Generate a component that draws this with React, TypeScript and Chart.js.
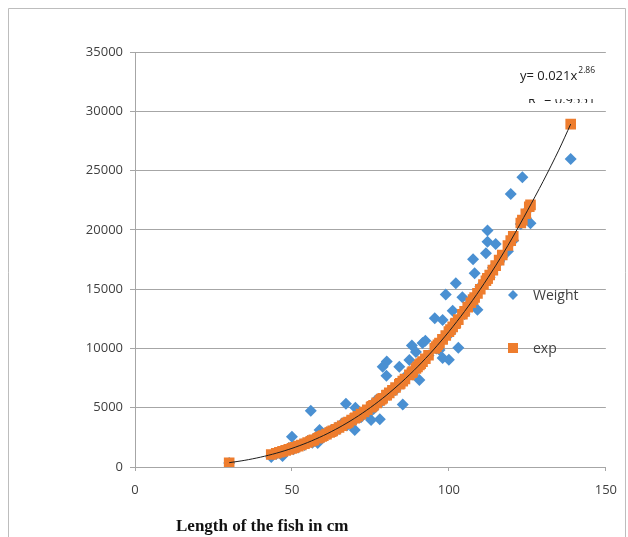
import React, { useEffect, useRef } from "react";
import { Chart, registerables } from "chart.js";

Chart.register(...registerables);

// Fish length (cm) – shared by both series
const fishLength = [
  30, 43.4, 45, 46, 47, 48, 49, 50, 50.5, 51, 52, 53, 54, 55, 56, 56.5, 57, 58.2, 58.8, 59.5,
  60, 61, 62, 62.5, 63, 64, 65, 66, 67.2, 67.5, 68, 69, 70.2, 70, 71, 72, 73, 74, 75.2, 75.5,
  76, 77, 78, 78.5, 78.9, 80.2, 80.1, 81, 82, 83, 84.2, 84.5, 85.3, 86, 87.4, 88.2, 88.5, 89.5, 90, 90.6,
  91, 91.6, 92.5, 93.5, 95.5, 96, 96.5, 97, 98, 98, 99, 100, 100.5, 101.2, 102.2, 102, 103, 104.3, 105, 106,
  107, 108.2, 107.7, 109.1, 110, 111, 111.8, 112.3, 112.3, 113, 114, 114.9, 116, 117, 118.8, 119.7, 120.5, 122.9, 123.4, 124.5,
  125.6, 126, 138.8,
];

// Measured weight
const weight = [
  330, 840, 1100, 1250, 930, 1300, 1600, 2550, 1500, 1700, 1650, 1900, 1850, 2200, 4750, 2050, 2400, 2020, 3120, 2550,
  2500, 2900, 2800, 3100, 3000, 3300, 3200, 3700, 5340, 3500, 3900, 3700, 5000, 3120, 4300, 4200, 4600, 4400, 3960, 5200,
  4900, 5700, 4020, 5500, 8460, 8900, 7700, 6100, 6600, 6500, 8460, 7100, 5270, 7600, 9020, 10250, 7800, 9700, 8300, 7340,
  8600, 10450, 10650, 9400, 12540, 10000, 10300, 9870, 9200, 12400, 14550, 9050, 11300, 13170, 15490, 12000, 10050, 14310, 12900, 13500,
  14000, 16330, 17530, 13270, 15200, 15500, 18020, 19950, 19000, 16000, 16800, 18800, 17300, 17700, 18200, 23020, 19100, 20500, 24430, 21000,
  21800, 20550, 25970,
];

// Expected weight (exp)
const expWeight = [
  364, 1050, 1163, 1238, 1317, 1399, 1484, 1572, 1618, 1665, 1759, 1857, 1959, 2066, 2175, 2231, 2287, 2426, 2500, 2586,
  2649, 2777, 2908, 2976, 3045, 3185, 3330, 3479, 3663, 3710, 3788, 3950, 4149, 4115, 4286, 4461, 4641, 4825, 5052, 5110,
  5207, 5406, 5608, 5712, 5795, 6072, 6051, 6248, 6471, 6702, 6982, 7054, 7246, 7416, 7767, 7946, 8050, 8313, 8446, 8610,
  8719, 8884, 9135, 9420, 10007, 10156, 10308, 10462, 10774, 10774, 11093, 11417, 11583, 11816, 12150, 12083, 12427, 12877, 13126, 13484,
  13853, 14299, 14112, 14642, 14991, 15386, 15704, 15907, 15907, 16193, 16603, 16981, 17451, 17882, 18685, 19093, 19460, 20580, 20820, 21360,
  21950, 22108, 28920,
];

// Power trend line of Weight
const trendLength = [30, 35, 40, 45, 50, 55, 60, 65, 70, 75, 80, 85, 90, 95, 100, 105, 110, 115, 120, 125, 130, 135, 138.8];
const trendWeight = [364, 566, 830, 1163, 1572, 2066, 2649, 3330, 4115, 5014, 6029, 7174, 8446, 9859, 11417, 13126, 14991, 17023, 19228, 21609, 24080, 26720, 28920];

const xTickValues = [0, 50, 100, 150];
const yTickValues = [0, 5000, 10000, 15000, 20000, 25000, 30000, 35000];
const seriesNames = ["Weight", "exp"];
const xTitle = "Length of the fish in cm";
const equationMain = "y= 0.021x";
const equationPower = "2.86";
const rSquaredText = "R² = 0.9551";

const BLUE = "#4A90D2";
const ORANGE = "#EE7D2E";
const GRID = "#a6a6a6";
const TEXT = "#404040";
const SANS = "'Open Sans', 'Noto Sans', sans-serif";

const decorPlugin = {
  id: "decor",
  beforeDraw(chart: any) {
    const ctx = chart.ctx;
    ctx.save();
    ctx.fillStyle = "#ffffff";
    ctx.fillRect(0, 0, chart.width, chart.height);
    ctx.strokeStyle = "#bdbdbd";
    ctx.lineWidth = 1;
    ctx.beginPath();
    ctx.moveTo(8.5, chart.height);
    ctx.lineTo(8.5, 8.5);
    ctx.lineTo(625.5, 8.5);
    ctx.lineTo(625.5, chart.height);
    ctx.stroke();
    ctx.restore();
  },
  afterDraw(chart: any) {
    const ctx = chart.ctx;
    ctx.save();
    // Equation
    ctx.fillStyle = "#202020";
    ctx.textBaseline = "alphabetic";
    ctx.textAlign = "left";
    ctx.font = `13px ${SANS}`;
    ctx.fillText(equationMain, 520, 80);
    const w = ctx.measureText(equationMain).width;
    ctx.font = `8.5px ${SANS}`;
    ctx.fillText(equationPower, 520 + w + 1, 73);
    // partially hidden R² line
    ctx.save();
    ctx.beginPath();
    ctx.rect(520, 99, 90, 4);
    ctx.clip();
    ctx.font = `13px ${SANS}`;
    ctx.fillText(rSquaredText, 528, 104);
    ctx.restore();

    // Legend
    ctx.fillStyle = BLUE;
    ctx.beginPath();
    ctx.moveTo(513, 290);
    ctx.lineTo(518, 295);
    ctx.lineTo(513, 300);
    ctx.lineTo(508, 295);
    ctx.closePath();
    ctx.fill();
    ctx.fillStyle = ORANGE;
    ctx.fillRect(508, 343, 10, 10);
    ctx.fillStyle = TEXT;
    ctx.font = `14px ${SANS}`;
    ctx.textBaseline = "middle";
    ctx.fillText(seriesNames[0], 533, 296);
    ctx.fillText(seriesNames[1], 533, 349);

    // X title
    ctx.fillStyle = "#111111";
    ctx.font = `bold 17px 'Liberation Serif', 'DejaVu Serif', serif`;
    ctx.textBaseline = "alphabetic";
    ctx.fillText(xTitle, 176, 531);
    ctx.restore();
  },
};

export default function App() {
  const canvasRef = useRef<HTMLCanvasElement | null>(null);

  useEffect(() => {
    const canvas = canvasRef.current;
    if (!canvas) return;
    const chart = new Chart(canvas, {
      type: "scatter",
      data: {
        datasets: [
          {
            label: "trend",
            data: trendLength.map((x, i) => ({ x, y: trendWeight[i] })),
            showLine: true,
            borderColor: "#1e1e1e",
            borderWidth: 1,
            pointRadius: 0,
            tension: 0.3,
            order: 0,
          } as any,
          {
            label: seriesNames[1],
            data: fishLength.map((x, i) => ({ x, y: expWeight[i] })),
            backgroundColor: ORANGE,
            borderColor: ORANGE,
            borderWidth: 0,
            pointStyle: "rect",
            pointRadius: 7.5,
            order: 1,
          },
          {
            label: seriesNames[0],
            data: fishLength.map((x, i) => ({ x, y: weight[i] })),
            backgroundColor: BLUE,
            borderColor: BLUE,
            borderWidth: 0,
            pointStyle: "rectRot",
            pointRadius: 6,
            order: 2,
          },
        ],
      },
      options: {
        responsive: false,
        animation: false,
        devicePixelRatio: 1,
        layout: { padding: { top: 52, right: 21, left: 0, bottom: 0 } },
        plugins: {
          legend: { display: false },
          tooltip: { enabled: false },
          title: { display: false },
        },
        scales: {
          x: {
            type: "linear",
            min: xTickValues[0],
            max: xTickValues[xTickValues.length - 1],
            afterBuildTicks: (s: any) => {
              s.ticks = xTickValues.map((v) => ({ value: v }));
            },
            afterFit: (s: any) => {
              s.height = 70;
            },
            ticks: {
              color: TEXT,
              font: { family: SANS, size: 13 },
              padding: 11,
              callback: (v: any) => String(v),
            },
            grid: { drawOnChartArea: false, drawTicks: true, tickLength: 4, color: GRID },
            border: { color: GRID },
          },
          y: {
            type: "linear",
            min: yTickValues[0],
            max: yTickValues[yTickValues.length - 1],
            afterBuildTicks: (s: any) => {
              s.ticks = yTickValues.map((v) => ({ value: v }));
            },
            afterFit: (s: any) => {
              s.width = 135;
            },
            ticks: {
              color: TEXT,
              font: { family: SANS, size: 13 },
              padding: 7,
              callback: (v: any) => String(v),
            },
            grid: { color: GRID, tickLength: 5 },
            border: { color: GRID },
          },
        },
      },
      plugins: [decorPlugin],
    });
    return () => chart.destroy();
  }, []);

  return (
    <div style={{ position: "fixed", left: 0, top: 0, width: 628, height: 537 }}>
      <canvas ref={canvasRef} width={628} height={537} style={{ width: 628, height: 537, display: "block" }} />
    </div>
  );
}
